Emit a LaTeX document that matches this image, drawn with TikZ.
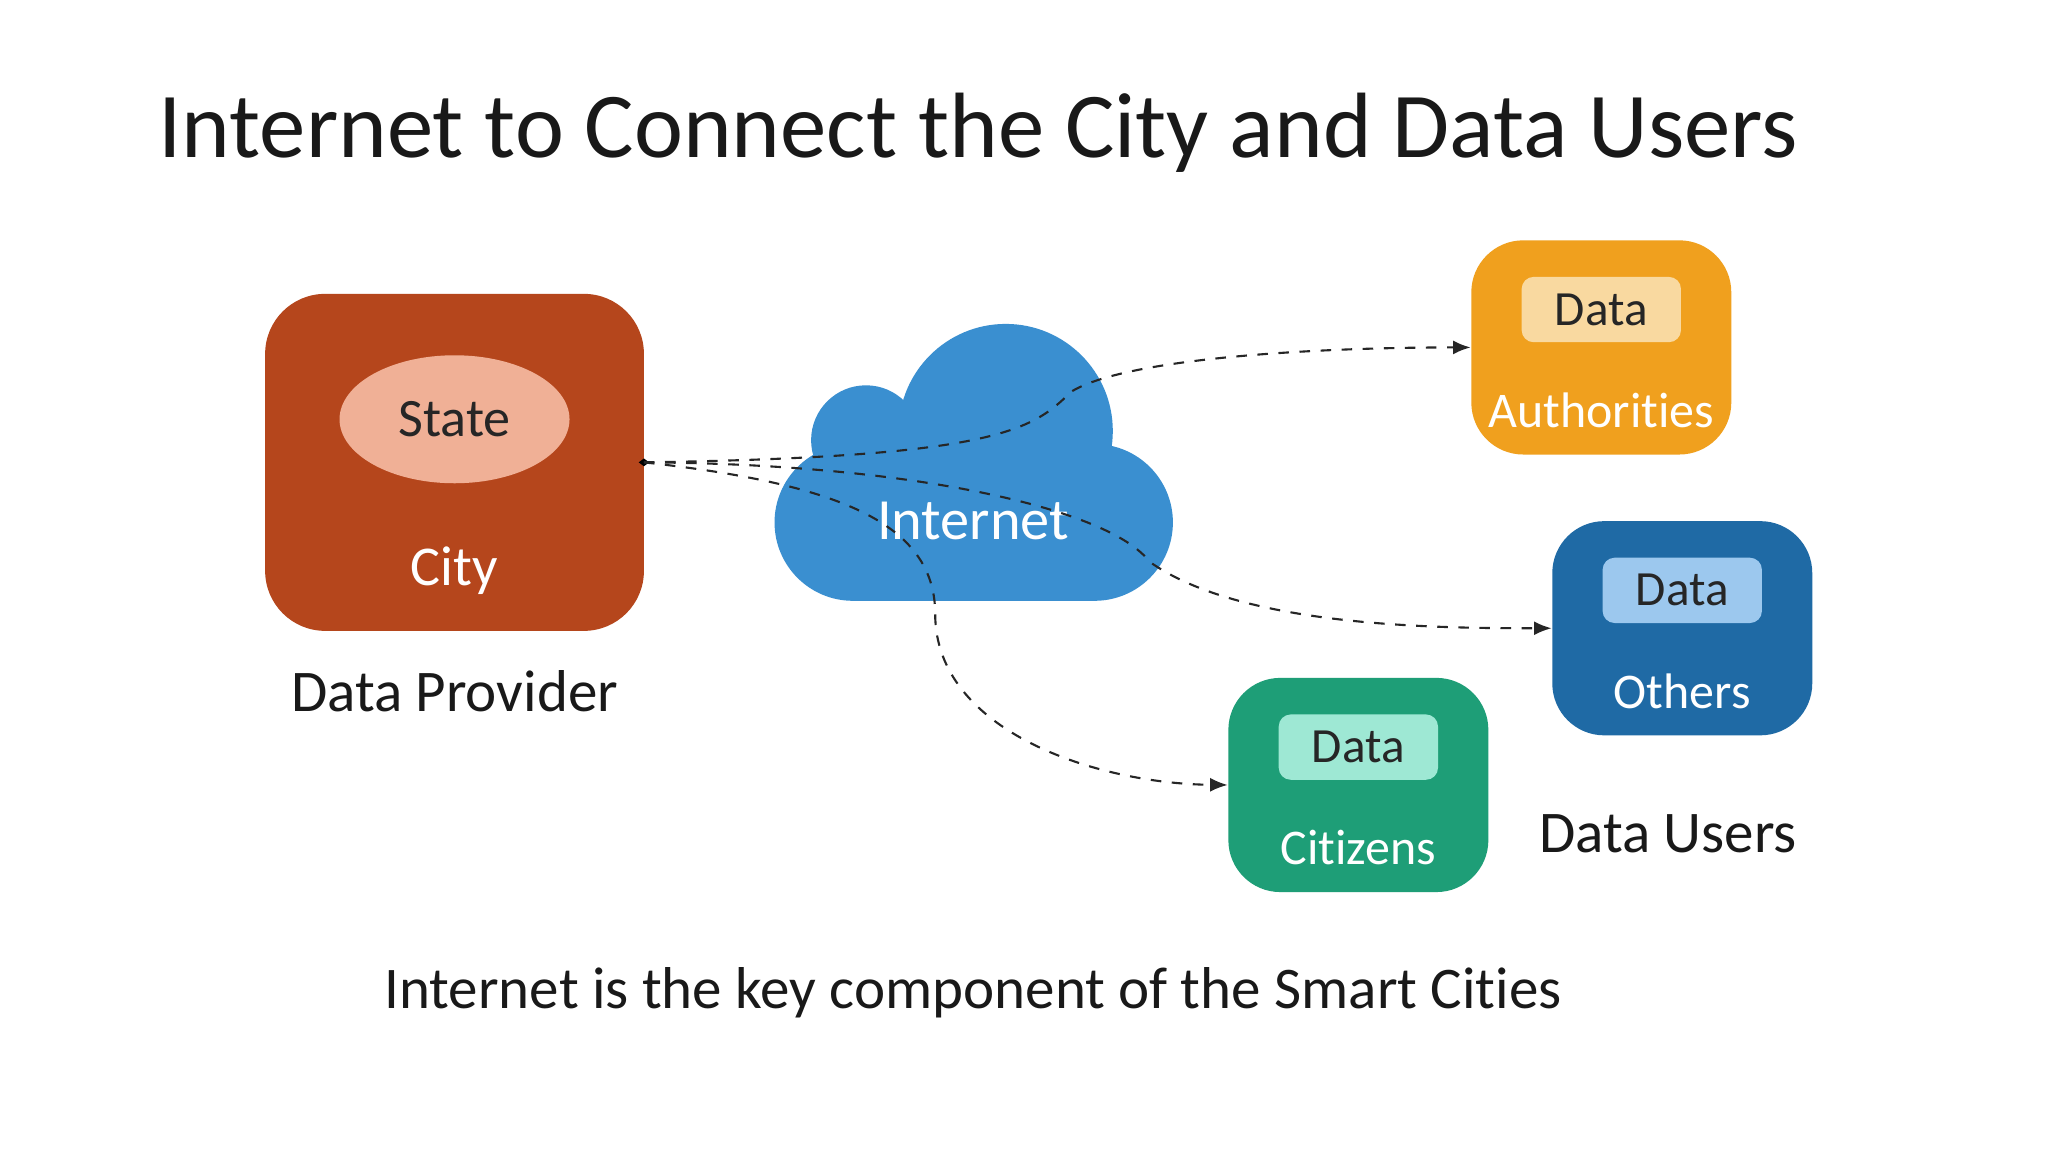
\documentclass[tikz,border=0pt]{standalone}
\usepackage{fontspec}
\setmainfont{Carlito}[Ligatures=NoCommon]
\usetikzlibrary{shapes.geometric,arrows.meta}
\definecolor{cityc}{HTML}{B5461C}
\definecolor{statec}{HTML}{F0B096}
\definecolor{cloudc}{HTML}{3A8FD0}
\definecolor{authc}{HTML}{F0A01E}
\definecolor{authi}{HTML}{F9D9A0}
\definecolor{othc}{HTML}{1F6AA5}
\definecolor{othi}{HTML}{9CC8EE}
\definecolor{citc}{HTML}{1E9E77}
\definecolor{citi}{HTML}{9EE8D4}
\tikzset{
 user/.style={rounded corners=0.52cm, minimum width=2.6cm, minimum height=2.142cm, inner sep=0pt},
 inner/.style={rounded corners=0.12cm, minimum width=1.593cm, minimum height=0.653cm, inner sep=0pt, font=\fontsize{14}{16}\selectfont, text=black!85},
 wlab/.style={text=white, font=\fontsize{14.2}{16}\selectfont},
 blab/.style={text=black!90, font=\fontsize{16.8}{19}\selectfont},
 conn/.style={dashed, black!85, line width=0.6pt, -{Latex[length=5pt,width=4pt]}}
}
\begin{document}
\begin{tikzpicture}[x=0.013061cm,y=-0.013061cm]
\useasboundingbox[fill=white] (0,0) rectangle (1568,882);
\node[blab, font=\fontsize{26.4}{28}\selectfont] (title) at (749,102) {Internet to Connect the City and Data Users};
% city
\node[fill=cityc, rounded corners=0.6cm, minimum width=3.788cm, minimum height=3.37cm] (city) at (348,354) {};
\node[ellipse, fill=statec, minimum width=2.3cm, minimum height=1.28cm, font=\fontsize{15.4}{18}\selectfont, text=black!85] (state) at (348,321) {State};
\node[wlab, font=\fontsize{16}{18}\selectfont] (citylab) at (348,437) {City};
\node[blab] (prov) at (348,529) {Data Provider};
% cloud
\fill[cloudc] (653,400) circle[radius=60];
\fill[cloudc] (838,400) circle[radius=60];
\fill[cloudc] (653,340) rectangle (838,460);
\fill[cloudc] (770,330) circle[radius=82];
\fill[cloudc] (663,337) circle[radius=42];
\fill[cloudc] (640,345) rectangle (840,400);
\node[wlab, font=\fontsize{16.6}{19}\selectfont] (inet) at (745,399) {Internet};
% users
\node[user, fill=authc] (auth) at (1226,266) {};
\node[inner, fill=authi] (authd) at (1226,237) {Data};
\node[wlab] (authl) at (1226,314) {Authorities};
\node[user, fill=othc] (oth) at (1288,481) {};
\node[inner, fill=othi] (othd) at (1288,452) {Data};
\node[wlab] (othl) at (1288,529) {Others};
\node[user, fill=citc] (cit) at (1040,601) {};
\node[inner, fill=citi] (citd) at (1040,572) {Data};
\node[wlab] (citl) at (1040,649) {Citizens};
\node[blab] (users) at (1277,638) {Data Users};
\node[blab] (cap) at (745,760) {Internet is the key component of the Smart Cities};
% connectors
\coordinate (src) at (493,354);
\fill[black] (src) ++(-4,0) -- ++(4,-3) -- ++(4,3) -- ++(-4,3) -- cycle;
\draw[conn] (src) .. controls (760,350) and (790,330) .. (820,300) .. controls (860,275) and (1000,266) .. (auth.west);
\draw[conn] (src) .. controls (700,355) and (850,390) .. (880,430) .. controls (950,480) and (1100,481) .. (oth.west);
\draw[conn] (src) .. controls (640,370) and (716,400) .. (716,470) .. controls (716,560) and (840,600) .. (cit.west);
\end{tikzpicture}
\end{document}
